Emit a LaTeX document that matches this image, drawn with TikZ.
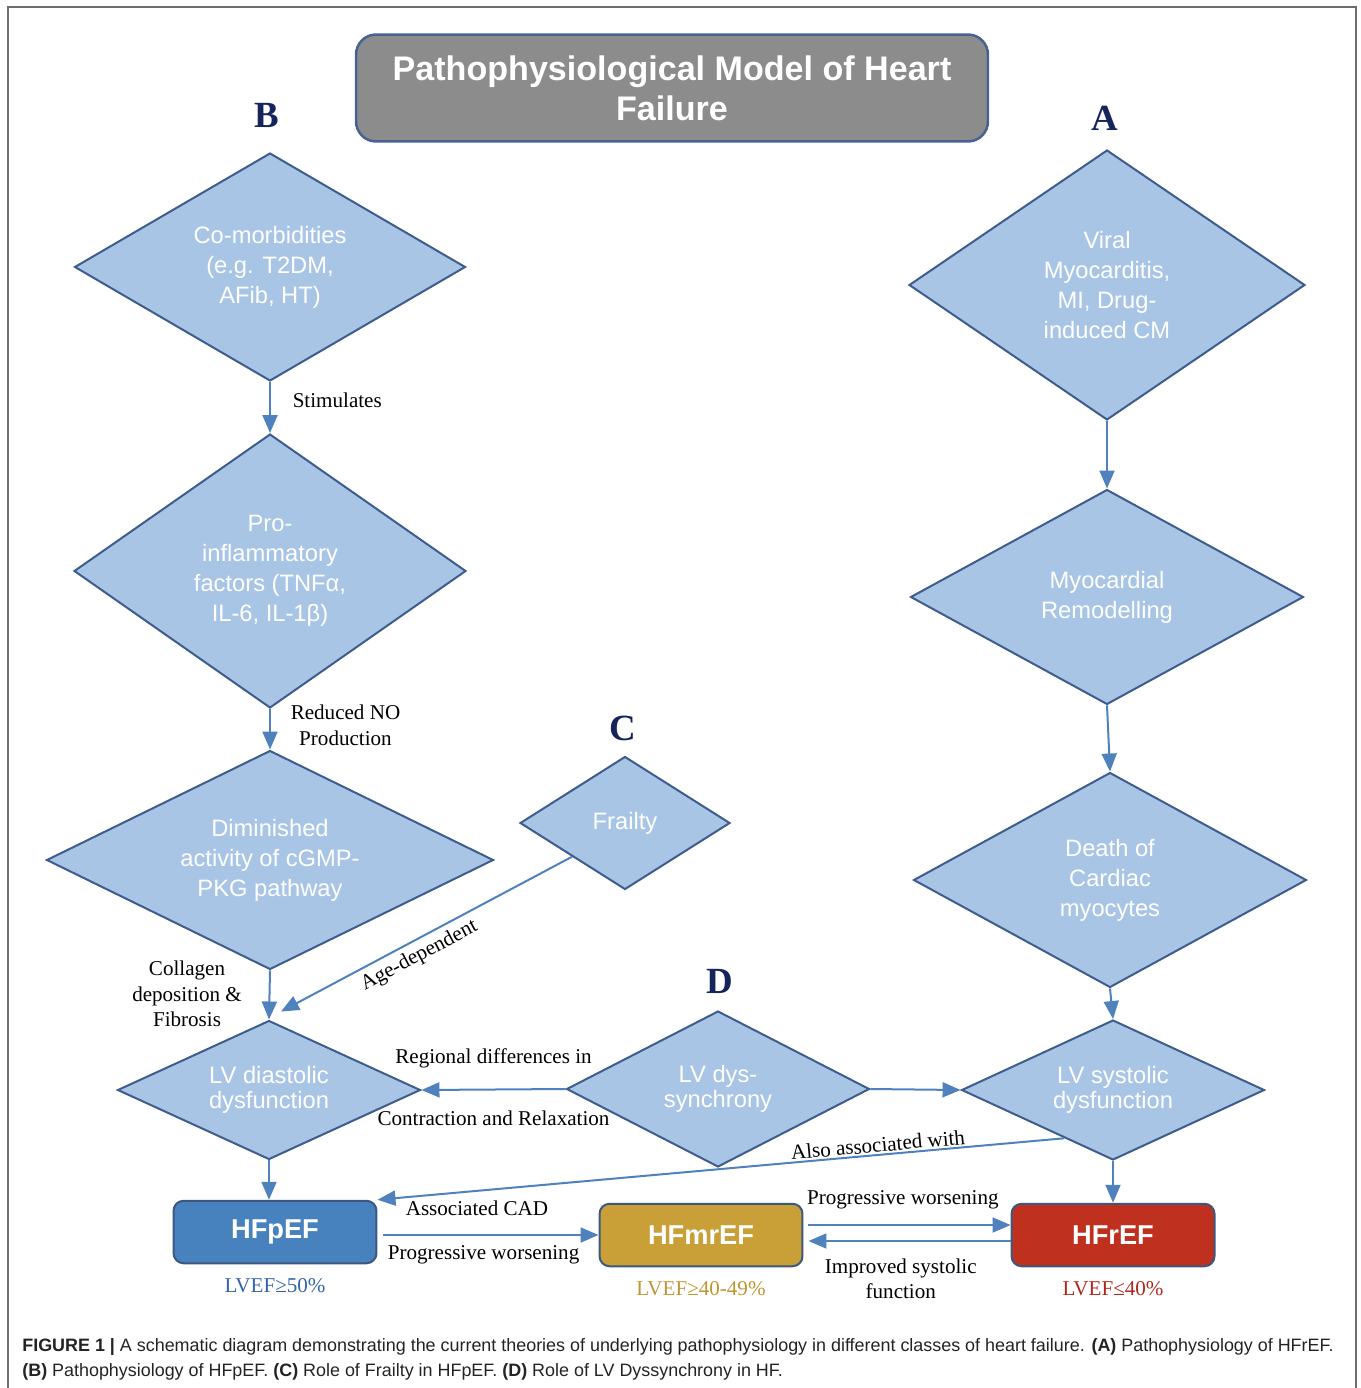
\documentclass[tikz,border=0pt]{standalone}
\usepackage{fontspec}
\setmainfont{Liberation Serif}
\setsansfont{Liberation Sans}
\usetikzlibrary{shapes.geometric,arrows.meta,positioning,calc}

\definecolor{dfill}{RGB}{168,197,230}
\definecolor{dline}{RGB}{62,92,140}
\definecolor{arrblue}{RGB}{79,129,189}
\definecolor{titlegray}{RGB}{140,140,140}
\definecolor{titleline}{RGB}{70,100,145}
\definecolor{navy}{RGB}{22,36,92}
\definecolor{boxline}{RGB}{60,88,128}
\definecolor{pblue}{RGB}{72,130,190}
\definecolor{mgold}{RGB}{200,160,55}
\definecolor{rred}{RGB}{192,48,30}
\definecolor{lvblue}{RGB}{50,100,170}
\definecolor{lvgold}{RGB}{190,150,50}
\definecolor{lvred}{RGB}{175,40,30}
\definecolor{framegray}{RGB}{110,110,110}
\definecolor{capgray}{RGB}{35,35,35}

\begin{document}
\begin{tikzpicture}[
x=0.02cm, y=-0.02cm,
dia/.style={diamond, draw=dline, fill=dfill, line width=.4mm, inner sep=0pt, text=white, align=center, font=\sffamily\fontsize{13.5}{17}\selectfont},
smalldia/.style={dia, font=\sffamily\fontsize{13.5}{14.5}\selectfont},
efbox/.style={draw=boxline, line width=.4mm, rounded corners=.2cm, minimum width=4.06cm, minimum height=1.25cm, text=white, font=\sffamily\bfseries\fontsize{15.5}{18}\selectfont},
arr/.style={draw=arrblue, line width=.4mm, -{Triangle[length=3.6mm,width=3mm]}},
lab/.style={font=\fontsize{12}{14.5}\selectfont, align=center, inner sep=1pt},
panel/.style={font=\bfseries\fontsize{21}{21}\selectfont, text=navy},
lvef/.style={font=\fontsize{12}{14}\selectfont}
]

%% Page and frame
\useasboundingbox (0,0) rectangle (1360,1388);
\draw[framegray, line width=.5mm] (8,1388) -- (8,7) -- (1356,7) -- (1356,1388);

%% Title
\node[draw=titleline, fill=titlegray, line width=.5mm, rounded corners=.4cm, minimum width=12.64cm, minimum height=2.14cm, text=white, align=center, font=\sffamily\bfseries\fontsize{19.4}{22.7}\selectfont] (title) at (672,88) {Pathophysiological Model of Heart\\Failure};

%% Panel letters
\node[panel] (lblB) at (267,115) {B};
\node[panel] (lblA) at (1105,118) {A};
\node[panel] (lblC) at (623,728) {C};
\node[panel] (lblD) at (720,981) {D};

%% B: HFpEF chain
\node[dia, shape aspect=1.71, minimum width=7.82cm, minimum height=4.56cm] (b1) at (270,267) {Co-morbidities\\(e.g. T2DM,\\AFib, HT)};
\node[dia, shape aspect=1.43, minimum width=7.84cm, minimum height=5.48cm] (b2) at (270,571) {Pro-\\inflammatory\\factors (TNFα,\\IL-6, IL-1β)};
\node[dia, shape aspect=2.04, minimum width=8.94cm, minimum height=4.38cm] (b3) at (270,860) {Diminished\\activity of cGMP-\\PKG pathway};
\node[smalldia, shape aspect=2.18, minimum width=6.06cm, minimum height=2.78cm] (b4) at (269,1090) {LV diastolic\\dysfunction};

%% C and D
\node[dia, shape aspect=1.58, minimum width=4.2cm, minimum height=2.66cm] (frail) at (625,823) {Frailty};
\node[smalldia, shape aspect=1.94, minimum width=6.06cm, minimum height=3.12cm] (dys) at (718,1089) {LV dys-\\synchrony};

%% A: HFrEF chain
\node[dia, shape aspect=1.47, minimum width=7.92cm, minimum height=5.4cm] (a1) at (1107,285) {Viral\\Myocarditis,\\MI, Drug-\\induced CM};
\node[dia, shape aspect=1.83, minimum width=7.86cm, minimum height=4.3cm] (a2) at (1107,597) {Myocardial\\Remodelling};
\node[dia, shape aspect=1.83, minimum width=7.86cm, minimum height=4.3cm] (a3) at (1110,880) {Death of\\Cardiac\\myocytes};
\node[smalldia, shape aspect=2.16, minimum width=6.06cm, minimum height=2.8cm] (a4) at (1113,1090) {LV systolic\\dysfunction};

%% HF classes
\node[efbox, fill=pblue] (hfp) at (275,1232) {HFpEF};
\node[efbox, fill=mgold] (hfm) at (701,1235) {HFmrEF};
\node[efbox, fill=rred] (hfr) at (1113,1235) {HFrEF};

\node[lvef, text=lvblue, below=0.16cm of hfp] (efp) {LVEF≥50\%};
\node[lvef, text=lvgold, below=0.16cm of hfm] (efm) {LVEF≥40-49\%};
\node[lvef, text=lvred, below=0.16cm of hfr] (efr) {LVEF≤40\%};

%% Arrows, B
\draw[arr] (b1.south) -- node[lab, right=0.4cm, pos=.35] {Stimulates} (b2.north);
\draw[arr] (b2.south) -- node[lab, right=0.36cm, pos=.4] {Reduced NO\\Production} (b3.north);
\draw[arr] (b3.south) -- node[lab, left=0.5cm, pos=.48] {Collagen\\deposition \&\\Fibrosis} (b4.north);
\draw[arr] (b4.south) -- (b4.south |- hfp.north);

% frailty
\coordinate (fend) at ([xshift=.24cm, yshift=.16cm]b4.north);
\draw[arr] (frail.south west) -- node[lab, sloped, below=2pt, pos=.55] {Age-dependent} (fend);

% dyssynchrony
\draw[arr] (dys.west) -- node[lab, above=.37cm] {Regional differences in} node[lab, below=.37cm] {Contraction and Relaxation} (b4.east);
\draw[arr] (dys.east) -- (a4.west);

%% Arrows, A
\draw[arr] (a1.south) -- (a2.north);
\draw[arr] (a2.south) -- (a3.north);
\draw[arr] (a3.south) -- (a4.north);
\draw[arr] (a4.south) -- (hfr.north);
\draw[arr] ($(a4.west)!0.68!(a4.south)$) -- node[lab, sloped, above, pos=.27] {Also associated with} (hfp.north east);

%% Between classes
\draw[arr, shorten <=.12cm] (hfp.east |- hfm.west) -- node[lab, above=.34cm, pos=.45] {Associated CAD} node[lab, below=.15cm, pos=.48] {Progressive worsening} (hfm.west);
\coordinate (m1) at ([yshift=.2cm]hfm.east);
\coordinate (m2) at ([yshift=-.12cm]hfm.east);
\draw[arr, shorten <=.1cm] (m1) -- node[lab, above=.27cm, pos=.48] {Progressive worsening} (m1 -| hfr.west);
\draw[arr, shorten >=.1cm] (m2 -| hfr.west) -- node[lab, below=.3cm, pos=.53] {Improved systolic\\function} (m2);

%% Caption
\node[anchor=west, inner sep=0pt, text=capgray, font=\sffamily\fontsize{10.2}{12}\selectfont] (cap1) at (22,1347) {\textbf{FIGURE 1 |} A schematic diagram demonstrating the current theories of underlying pathophysiology in different classes of heart failure. \textbf{(A)} Pathophysiology of HFrEF.};
\node[anchor=west, inner sep=0pt, text=capgray, font=\sffamily\fontsize{10.2}{12}\selectfont] (cap2) at (22,1372) {\textbf{(B)} Pathophysiology of HFpEF. \textbf{(C)} Role of Frailty in HFpEF. \textbf{(D)} Role of LV Dyssynchrony in HF.};

\end{tikzpicture}
\end{document}
